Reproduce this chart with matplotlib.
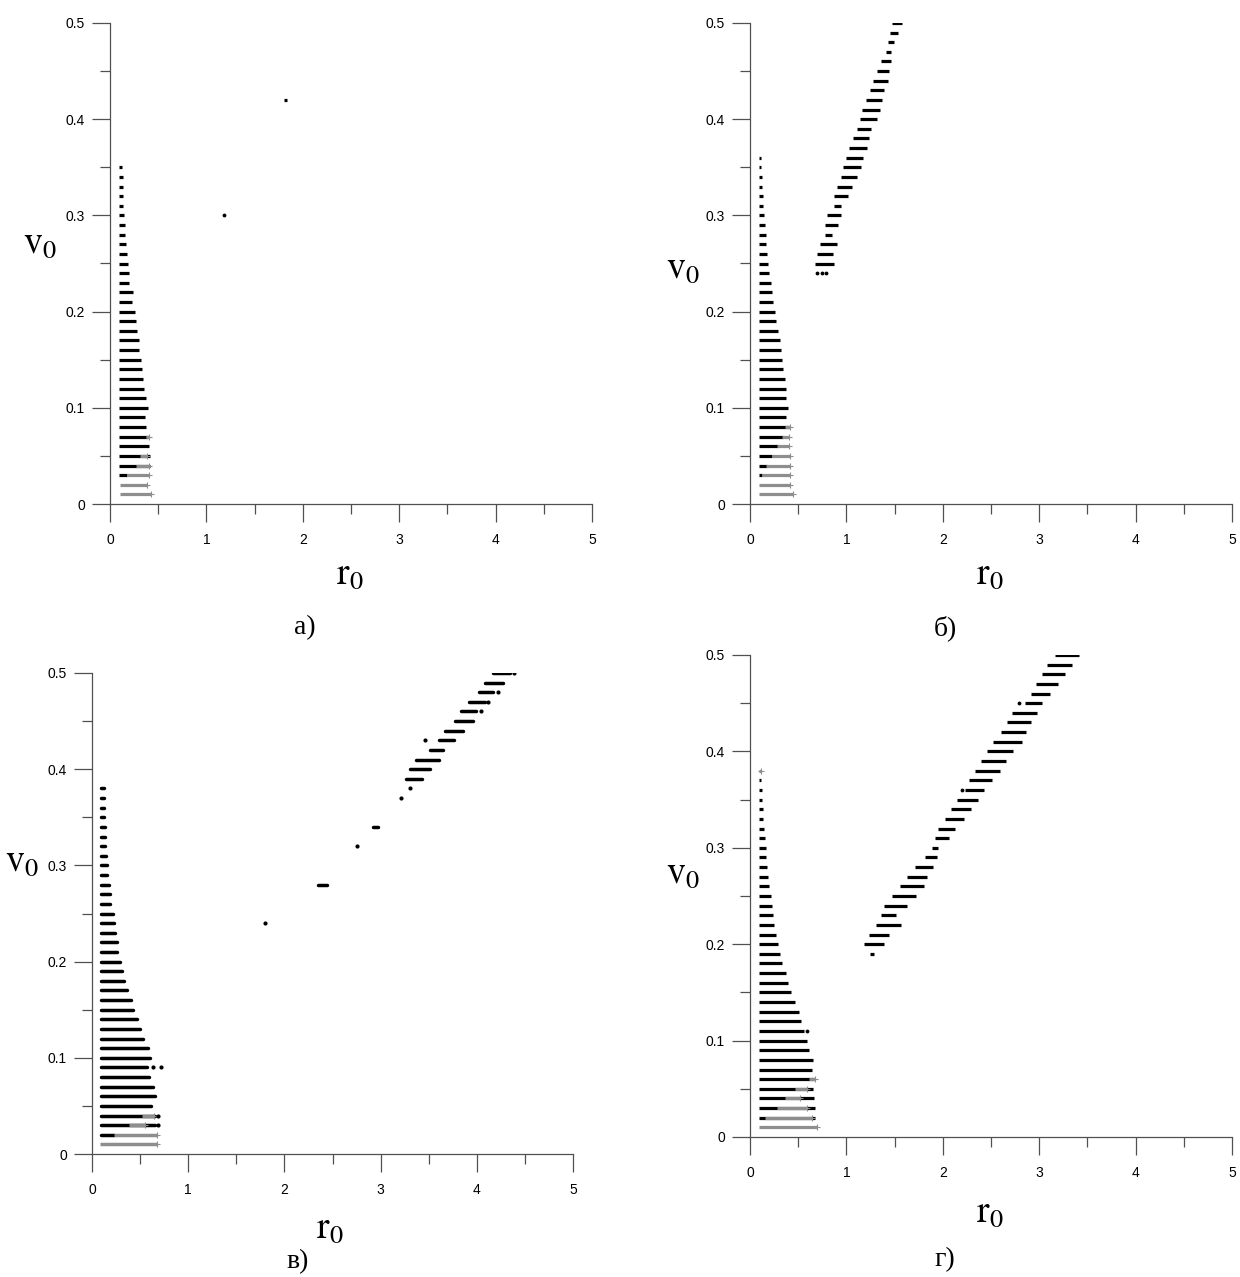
import matplotlib
matplotlib.use("Agg")
import matplotlib.pyplot as plt
from matplotlib.ticker import MultipleLocator

plt.rcParams['mathtext.fontset'] = 'stix'

W, H = 1240, 1277

x_ticks = [0, 1, 2, 3, 4, 5]
y_ticks = [0, 0.1, 0.2, 0.3, 0.4, 0.5]
y_labels = ['0', '0.1', '0.2', '0.3', '0.4', '0.5']

# ---- panel a) : (v0, r0 end) of the black rows, all start at r0 ~ 0.09
a_black = [(0.35, 0.12), (0.34, 0.13), (0.33, 0.13), (0.32, 0.14), (0.31, 0.14),
           (0.30, 0.15), (0.29, 0.16), (0.28, 0.16), (0.27, 0.17), (0.26, 0.18),
           (0.25, 0.19), (0.24, 0.20), (0.23, 0.20), (0.22, 0.24), (0.21, 0.23),
           (0.20, 0.26), (0.19, 0.27), (0.18, 0.28), (0.17, 0.30), (0.16, 0.30),
           (0.15, 0.32), (0.14, 0.335), (0.13, 0.345), (0.12, 0.355), (0.11, 0.37),
           (0.10, 0.39), (0.09, 0.36), (0.08, 0.375), (0.07, 0.39), (0.06, 0.40),
           (0.05, 0.41), (0.04, 0.42), (0.03, 0.18)]
a_grey = [(0.07, 0.37, 0.40), (0.05, 0.31, 0.38), (0.04, 0.27, 0.40),
          (0.03, 0.18, 0.40), (0.02, 0.10, 0.38), (0.01, 0.10, 0.43)]
a_diag = [(0.42, 1.80, 1.84)]
a_dots = [(1.18, 0.30)]

# ---- panel б)
b_black = [(0.36, 0.115), (0.35, 0.115), (0.34, 0.125), (0.33, 0.125), (0.32, 0.14),
           (0.31, 0.14), (0.30, 0.15), (0.29, 0.16), (0.28, 0.17), (0.27, 0.17),
           (0.26, 0.18), (0.25, 0.19), (0.24, 0.20), (0.23, 0.22), (0.22, 0.23),
           (0.21, 0.24), (0.20, 0.255), (0.19, 0.265), (0.18, 0.29), (0.17, 0.31),
           (0.16, 0.325), (0.15, 0.335), (0.14, 0.345), (0.13, 0.365), (0.12, 0.375),
           (0.11, 0.375), (0.10, 0.395), (0.09, 0.377), (0.08, 0.40), (0.07, 0.346),
           (0.06, 0.29), (0.05, 0.225), (0.04, 0.173), (0.03, 0.128)]
b_grey = [(0.08, 0.36, 0.41), (0.07, 0.33, 0.40), (0.06, 0.275, 0.405),
          (0.05, 0.225, 0.41), (0.04, 0.17, 0.415), (0.03, 0.128, 0.415),
          (0.02, 0.097, 0.415), (0.01, 0.097, 0.45)]
b_diag = [(0.50, 1.47, 1.58), (0.49, 1.45, 1.54), (0.48, 1.43, 1.49), (0.47, 1.41, 1.46),
          (0.46, 1.36, 1.46), (0.45, 1.32, 1.44), (0.44, 1.28, 1.43), (0.43, 1.24, 1.39),
          (0.42, 1.20, 1.37), (0.41, 1.16, 1.35), (0.40, 1.14, 1.32), (0.39, 1.11, 1.25),
          (0.38, 1.07, 1.23), (0.37, 1.03, 1.21), (0.36, 1.00, 1.17), (0.35, 0.965, 1.15),
          (0.34, 0.94, 1.11), (0.33, 0.905, 1.055), (0.32, 0.875, 1.02), (0.31, 0.87, 0.94),
          (0.30, 0.80, 0.94), (0.29, 0.78, 0.91), (0.28, 0.78, 0.85), (0.27, 0.73, 0.90),
          (0.26, 0.69, 0.86), (0.25, 0.67, 0.87)]
b_dots = [(0.70, 0.24), (0.745, 0.24), (0.79, 0.24)]

# ---- panel в)
c_black = [(0.38, 0.12), (0.37, 0.12), (0.36, 0.12), (0.35, 0.12), (0.34, 0.13),
           (0.33, 0.14), (0.32, 0.14), (0.31, 0.15), (0.30, 0.16), (0.29, 0.16),
           (0.28, 0.18), (0.27, 0.19), (0.26, 0.19), (0.25, 0.215), (0.24, 0.225),
           (0.23, 0.24), (0.22, 0.26), (0.21, 0.26), (0.20, 0.295), (0.19, 0.315),
           (0.18, 0.33), (0.17, 0.367), (0.16, 0.405), (0.15, 0.43), (0.14, 0.47),
           (0.13, 0.50), (0.12, 0.53), (0.11, 0.585), (0.10, 0.605), (0.09, 0.57),
           (0.08, 0.59), (0.07, 0.63), (0.06, 0.65), (0.05, 0.61), (0.04, 0.66),
           (0.03, 0.66), (0.02, 0.225)]
c_grey = [(0.04, 0.52, 0.64), (0.03, 0.38, 0.555), (0.02, 0.225, 0.68),
          (0.01, 0.086, 0.68)]
c_diag = [(0.50, 4.165, 4.345), (0.49, 4.09, 4.27), (0.48, 4.02, 4.17), (0.47, 3.92, 4.085),
          (0.46, 3.84, 3.99), (0.45, 3.77, 3.96), (0.44, 3.67, 3.86), (0.43, 3.61, 3.76),
          (0.42, 3.51, 3.645), (0.41, 3.365, 3.61), (0.40, 3.305, 3.51), (0.39, 3.26, 3.43),
          (0.34, 2.92, 2.97), (0.28, 2.35, 2.44)]
c_dots = [(4.39, 0.50), (4.22, 0.48), (4.12, 0.47), (4.04, 0.46), (3.46, 0.43),
          (3.31, 0.38), (3.21, 0.37), (2.75, 0.32), (1.80, 0.24),
          (0.63, 0.09), (0.72, 0.09), (0.69, 0.04), (0.69, 0.03)]

# ---- panel г)
d_black = [(0.37, 0.114), (0.36, 0.125), (0.35, 0.125), (0.34, 0.135), (0.33, 0.135),
           (0.32, 0.145), (0.31, 0.155), (0.30, 0.166), (0.29, 0.166), (0.28, 0.176),
           (0.27, 0.187), (0.26, 0.194), (0.25, 0.215), (0.24, 0.225), (0.23, 0.235),
           (0.22, 0.25), (0.21, 0.27), (0.20, 0.29), (0.19, 0.31), (0.18, 0.33),
           (0.17, 0.37), (0.16, 0.39), (0.15, 0.43), (0.14, 0.47), (0.13, 0.51),
           (0.12, 0.53), (0.11, 0.56), (0.10, 0.59), (0.09, 0.61), (0.08, 0.65),
           (0.07, 0.64), (0.06, 0.664), (0.05, 0.65), (0.04, 0.66), (0.03, 0.67),
           (0.02, 0.67)]
d_grey = [(0.38, 0.093, 0.11), (0.06, 0.61, 0.67), (0.05, 0.47, 0.59), (0.04, 0.36, 0.52),
          (0.03, 0.28, 0.59), (0.02, 0.155, 0.64), (0.01, 0.093, 0.69)]
d_diag = [(0.50, 3.16, 3.41), (0.49, 3.08, 3.34), (0.48, 3.03, 3.27), (0.47, 2.97, 3.20),
          (0.46, 2.915, 3.115), (0.45, 2.85, 3.03), (0.44, 2.72, 2.98), (0.43, 2.67, 2.92),
          (0.42, 2.60, 2.86), (0.41, 2.52, 2.82), (0.40, 2.455, 2.73), (0.39, 2.40, 2.66),
          (0.38, 2.33, 2.59), (0.37, 2.27, 2.51), (0.36, 2.23, 2.43), (0.35, 2.15, 2.37),
          (0.34, 2.09, 2.29), (0.33, 2.02, 2.22), (0.32, 1.95, 2.13), (0.31, 1.92, 2.06),
          (0.30, 1.885, 1.95), (0.29, 1.82, 1.94), (0.28, 1.71, 1.90), (0.27, 1.63, 1.84),
          (0.26, 1.556, 1.80), (0.25, 1.47, 1.72), (0.24, 1.39, 1.625), (0.23, 1.36, 1.51),
          (0.22, 1.31, 1.57), (0.21, 1.23, 1.445), (0.20, 1.18, 1.39), (0.19, 1.24, 1.29)]
d_dots = [(0.594, 0.11), (2.79, 0.45), (2.20, 0.36)]

captions = ['а)', 'б)', 'в)', 'г)']


def px_box(x0, y0, x1, y1):
    # pixel corners -> figure fraction
    return [x0 / W, 1 - y1 / H, (x1 - x0) / W, (y1 - y0) / H]


def draw(ax, black, grey, diag, dots, r_start, lw, cap):
    ax.hlines([b[0] for b in black], r_start, [b[1] for b in black],
              color='k', lw=lw, capstyle=cap)
    ax.hlines([d[0] for d in diag], [d[1] for d in diag], [d[2] for d in diag],
              color='k', lw=lw, capstyle=cap)
    ax.hlines([g[0] for g in grey], [g[1] for g in grey], [g[2] for g in grey],
              color='#8e8e8e', lw=lw, capstyle='butt')
    ax.plot([g[2] for g in grey], [g[0] for g in grey], '+', color='#8e8e8e',
            ms=4, mew=0.8)
    ax.plot([d[0] for d in dots], [d[1] for d in dots], 'o', color='k',
            ms=lw * 1.2, mew=0)
    ax.spines['top'].set_visible(False)
    ax.spines['right'].set_visible(False)
    for s in ('left', 'bottom'):
        ax.spines[s].set_color('#505050')
        ax.spines[s].set_linewidth(0.9)
    ax.set_xticks(x_ticks, labels=[str(t) for t in x_ticks], family='Liberation Sans')
    ax.set_yticks(y_ticks, labels=y_labels, family='Liberation Sans')
    ax.xaxis.set_minor_locator(MultipleLocator(0.5))
    ax.yaxis.set_minor_locator(MultipleLocator(0.05))
    ax.tick_params(which='major', direction='out', length=13, width=0.9,
                   color='#505050', labelsize=10)
    ax.tick_params(axis='x', which='major', pad=8)
    ax.tick_params(axis='y', which='major', pad=5)
    ax.tick_params(which='minor', direction='out', length=7, width=0.9, color='#505050')
    ax.set_xlim(0, 5)
    ax.set_ylim(0, 0.5)


fig = plt.figure(figsize=(W / 100, H / 100), dpi=100)

ax_a = fig.add_axes(px_box(110, 23, 592, 504))
ax_b = fig.add_axes(px_box(750, 23, 1232, 504))
ax_c = fig.add_axes(px_box(92, 673, 573, 1154))
ax_d = fig.add_axes(px_box(750, 655, 1232, 1137))

draw(ax_a, a_black, a_grey, a_diag, a_dots, 0.09, 2.3, 'butt')
draw(ax_b, b_black, b_grey, b_diag, b_dots, 0.09, 2.3, 'butt')
draw(ax_c, c_black, c_grey, c_diag, c_dots, 0.095, 2.5, 'round')
draw(ax_d, d_black, d_grey, d_diag, d_dots, 0.093, 2.3, 'butt')

# axis titles and captions (pixel centres)
v_pos = [(40, 243), (683, 268), (22, 861), (683, 873)]
r_pos = [(350, 574), (990, 574), (330, 1228), (990, 1212)]
cap_pos = [(305, 628), (945, 628), (298, 1262), (945, 1260)]

for (vx, vy), (rx, ry), (cx, cy), cap in zip(v_pos, r_pos, cap_pos, captions):
    fig.text(vx / W, 1 - vy / H, r'$\mathrm{v}_0$', fontsize=27,
             ha='center', va='center')
    fig.text(rx / W, 1 - ry / H, r'$\mathrm{r}_0$', fontsize=27,
             ha='center', va='center')
    fig.text(cx / W, 1 - cy / H, cap, fontsize=20, family='Liberation Serif',
             ha='center', va='center')

fig.savefig('out.png', dpi=100, facecolor='white')
